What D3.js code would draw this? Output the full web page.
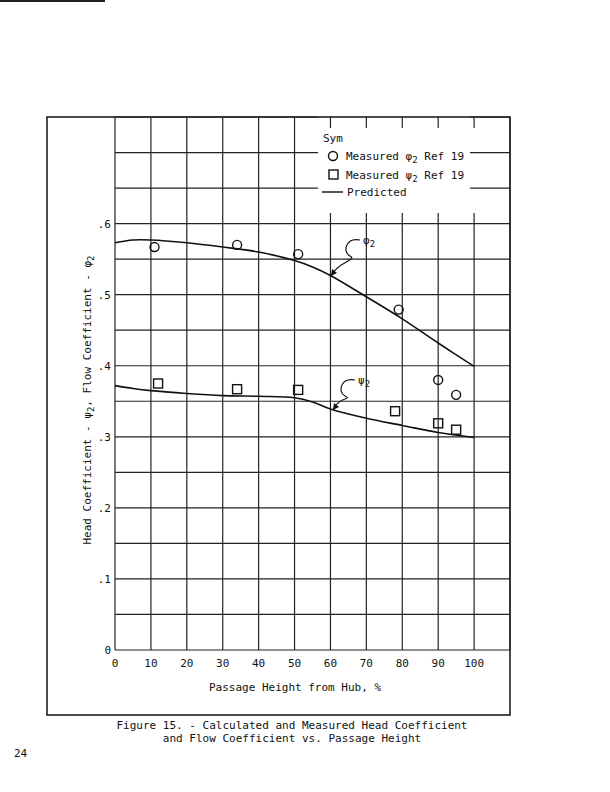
<!DOCTYPE html>
<html><head><meta charset="utf-8">
<script src="https://cdn.jsdelivr.net/npm/d3@7"></script>
<style>body{margin:0;background:#fff}text{font-family:"DejaVu Sans Mono",monospace;fill:#111}</style>
</head><body>
<script>
// measured and predicted values
var phiMeasX = [11, 34, 51, 79, 90, 95];
var phiMeasY = [0.567, 0.570, 0.557, 0.479, 0.380, 0.359];
var psiMeasX = [12, 34, 51, 78, 90, 95];
var psiMeasY = [0.375, 0.367, 0.366, 0.336, 0.319, 0.310];
var predX = [0, 5, 10, 20, 30, 40, 50, 55, 60, 70, 80, 90, 100];
var phiPred = [0.573, 0.577, 0.577, 0.573, 0.567, 0.560, 0.548, 0.539, 0.527, 0.497, 0.466, 0.432, 0.399];
var psiPred = [0.372, 0.368, 0.365, 0.361, 0.358, 0.357, 0.355, 0.349, 0.339, 0.326, 0.316, 0.306, 0.299];
var xTicks = [0, 10, 20, 30, 40, 50, 60, 70, 80, 90, 100];
var yTicks = [0, 0.1, 0.2, 0.3, 0.4, 0.5, 0.6];

var svg = d3.select("body").append("svg").attr("width", 610).attr("height", 792);
var x = d3.scaleLinear().domain([0, 110]).range([115, 510]);
var y = d3.scaleLinear().domain([0, 0.75]).range([650, 117]);

svg.append("line").attr("x1", 0).attr("x2", 105).attr("y1", 1).attr("y2", 1).attr("stroke", "#222").attr("stroke-width", 2);
// outer frame
svg.append("rect").attr("x", 47).attr("y", 117).attr("width", 463).attr("height", 598)
  .attr("fill", "none").attr("stroke", "#111").attr("stroke-width", 1.5);

var g = svg.append("g").attr("stroke", "#222").attr("stroke-width", 1.2);
d3.range(0, 111, 10).forEach(function(v) {
  if (v >= 60 && v <= 100) {
    g.append("line").attr("x1", x(v)).attr("x2", x(v)).attr("y1", y(0)).attr("y2", 213);
    g.append("line").attr("x1", x(v)).attr("x2", x(v)).attr("y1", 117).attr("y2", 128);
  } else
    g.append("line").attr("x1", x(v)).attr("x2", x(v)).attr("y1", y(0)).attr("y2", 117);
});
d3.range(0, 0.751, 0.05).forEach(function(v) {
  if (v > 0.63) {
    g.append("line").attr("x1", x(0)).attr("x2", 318).attr("y1", y(v)).attr("y2", y(v));
    g.append("line").attr("x1", 470).attr("x2", 510).attr("y1", y(v)).attr("y2", y(v));
  } else
    g.append("line").attr("x1", x(0)).attr("x2", 510).attr("y1", y(v)).attr("y2", y(v));
});

svg.selectAll(".xt").data(xTicks).enter().append("text")
  .attr("x", function(d) { return x(d); }).attr("y", y(0) + 17)
  .attr("text-anchor", "middle").attr("font-size", 11).text(function(d) { return d; });
svg.selectAll(".yt").data(yTicks).enter().append("text")
  .attr("x", x(0) - 4).attr("y", function(d) { return y(d) + 4; })
  .attr("text-anchor", "end").attr("font-size", 11)
  .text(function(d) { return d === 0 ? "0" : d3.format(".1f")(d).replace("0.", "."); });

svg.append("text").attr("x", 295).attr("y", 691).attr("text-anchor", "middle").attr("font-size", 11)
  .text("Passage Height from Hub, %");
svg.append("text").attr("transform", "translate(91,400) rotate(-90)").attr("text-anchor", "middle")
  .attr("font-size", 11).html('Head Coefficient - ψ<tspan dy="3" font-size="9">2</tspan><tspan dy="-3">, Flow Coefficient - φ</tspan><tspan dy="3" font-size="9">2</tspan>');

var line = d3.line().curve(d3.curveCatmullRom).x(function(d) { return x(d[0]); }).y(function(d) { return y(d[1]); });
svg.append("path").attr("d", line(d3.zip(predX, phiPred))).attr("fill", "none").attr("stroke", "#111").attr("stroke-width", 1.6);
svg.append("path").attr("d", line(d3.zip(predX, psiPred))).attr("fill", "none").attr("stroke", "#111").attr("stroke-width", 1.6);

svg.selectAll(".c").data(d3.zip(phiMeasX, phiMeasY)).enter().append("circle")
  .attr("cx", function(d) { return x(d[0]); }).attr("cy", function(d) { return y(d[1]); })
  .attr("r", 4.5).attr("fill", "none").attr("stroke", "#111").attr("stroke-width", 1.4);
svg.selectAll(".s").data(d3.zip(psiMeasX, psiMeasY)).enter().append("rect")
  .attr("x", function(d) { return x(d[0]) - 4.5; }).attr("y", function(d) { return y(d[1]) - 4.5; })
  .attr("width", 9).attr("height", 9).attr("fill", "none").attr("stroke", "#111").attr("stroke-width", 1.4);

// curve labels with squiggly leaders
function leader(x0, y0, x1, y1, lbl) {
  svg.append("path").attr("d", "M" + x0 + "," + y0 + " C" + (x0 - 14) + "," + (y0 - 3) + " " + (x0 - 18) + "," + (y0 + 12) + " " + (x0 - 10) + "," + (y0 + 16)
    + " S" + (x1 + 6) + "," + (y1 - 14) + " " + x1 + "," + y1)
    .attr("fill", "none").attr("stroke", "#111").attr("stroke-width", 1.2);
  svg.append("path").attr("d", "M" + x1 + "," + y1 + " l1,-7 l5,4 z").attr("fill", "#111");
  svg.append("text").attr("x", x0 + 3).attr("y", y0 + 4).attr("font-size", 11)
    .html(lbl + '<tspan dy="3" font-size="9">2</tspan>');
}
leader(360, 240, 331, 276, "φ");
leader(355, 380, 333, 410, "ψ");

// legend
svg.append("text").attr("x", 323).attr("y", 142).attr("font-size", 11).text("Sym");
svg.append("circle").attr("cx", 333).attr("cy", 156).attr("r", 4.5).attr("fill", "none").attr("stroke", "#111").attr("stroke-width", 1.4);
svg.append("text").attr("x", 346).attr("y", 160).attr("font-size", 11).html('Measured φ<tspan dy="3" font-size="9">2</tspan><tspan dy="-3"> Ref 19</tspan>');
svg.append("rect").attr("x", 329).attr("y", 170).attr("width", 9).attr("height", 9).attr("fill", "none").attr("stroke", "#111").attr("stroke-width", 1.4);
svg.append("text").attr("x", 346).attr("y", 179).attr("font-size", 11).html('Measured ψ<tspan dy="3" font-size="9">2</tspan><tspan dy="-3"> Ref 19</tspan>');
svg.append("line").attr("x1", 322).attr("x2", 343).attr("y1", 192).attr("y2", 192).attr("stroke", "#111").attr("stroke-width", 1.4);
svg.append("text").attr("x", 347).attr("y", 196).attr("font-size", 11).text("Predicted");

svg.append("text").attr("x", 292).attr("y", 729).attr("text-anchor", "middle").attr("font-size", 11)
  .text("Figure 15. - Calculated and Measured Head Coefficient");
svg.append("text").attr("x", 292).attr("y", 742).attr("text-anchor", "middle").attr("font-size", 11)
  .text("and Flow Coefficient vs. Passage Height");
svg.append("text").attr("x", 14).attr("y", 757).attr("font-size", 11).text("24");
</script>
</body></html>
